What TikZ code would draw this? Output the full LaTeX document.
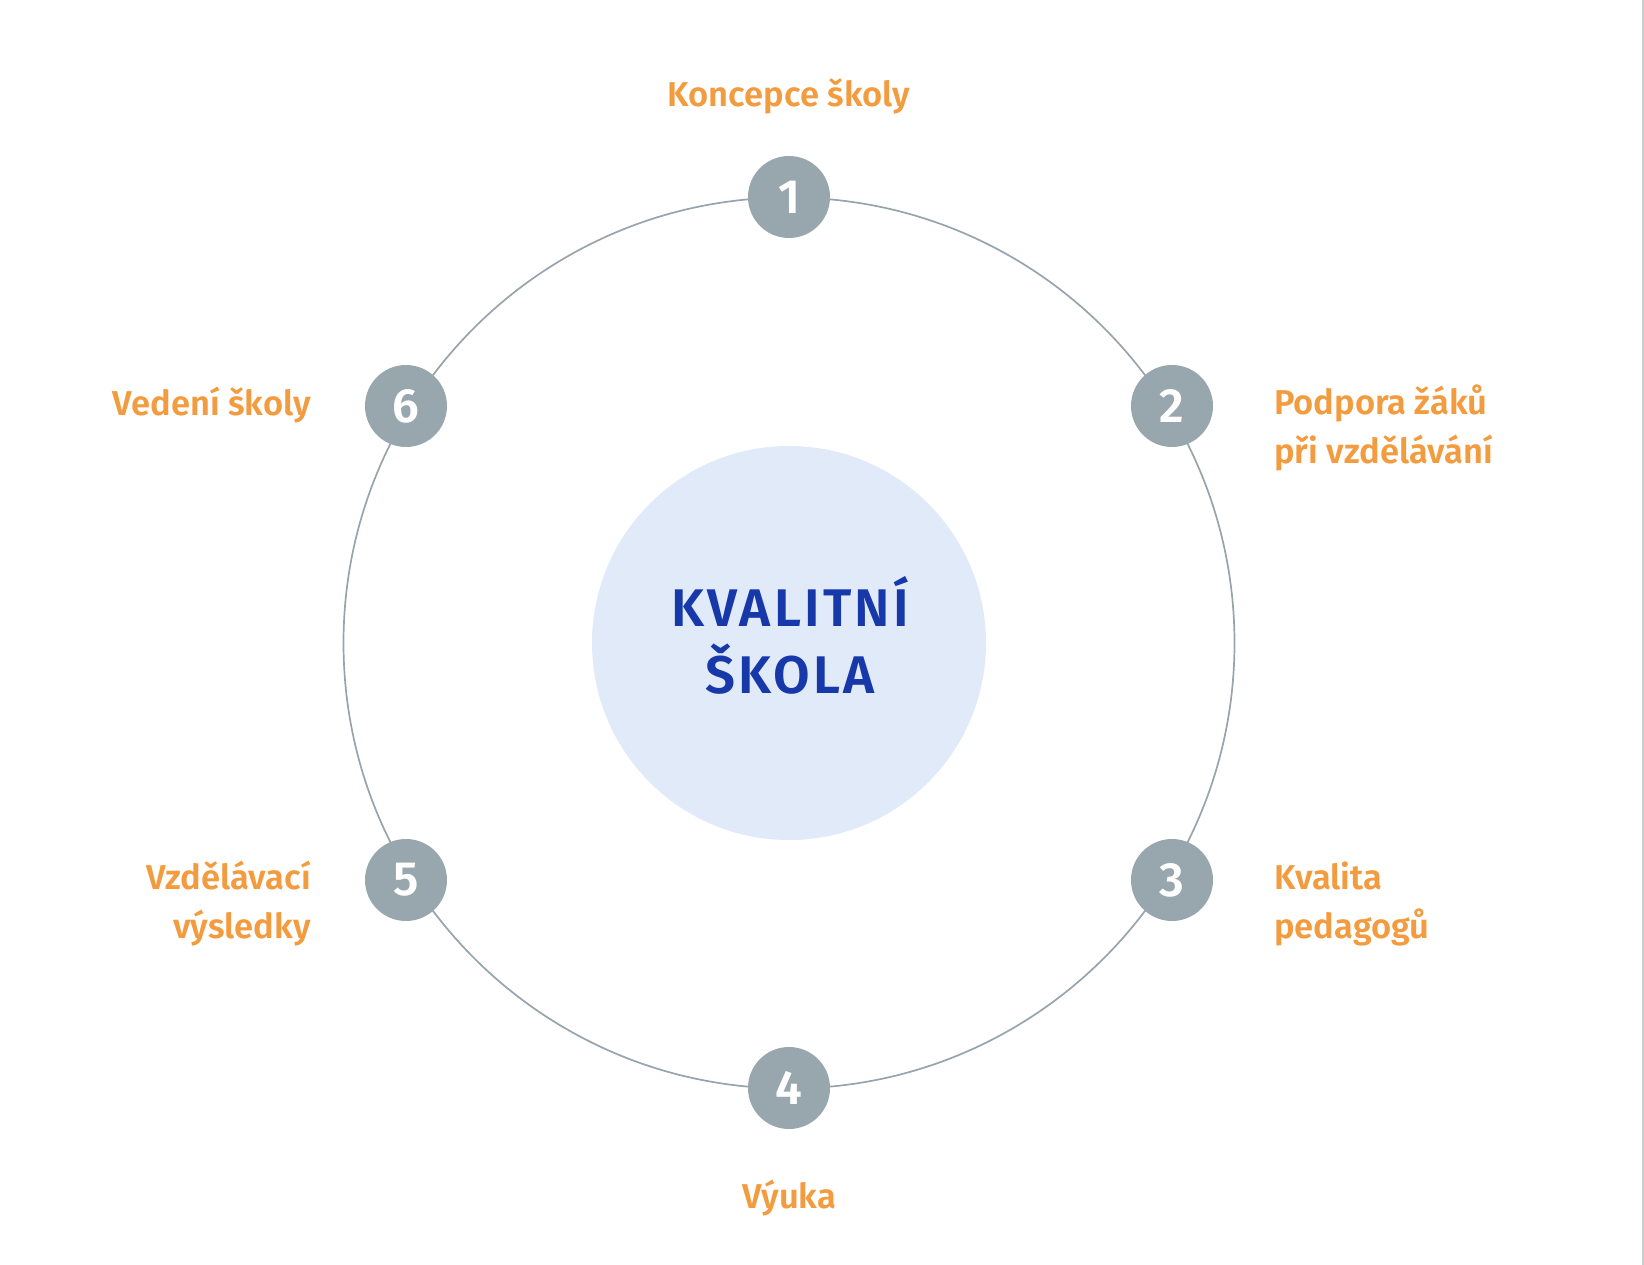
\documentclass[tikz,border=0pt]{standalone}
\usepackage{fontspec}
\setmainfont{Fira Sans}[BoldFont={Fira Sans SemiBold}]
\definecolor{labelorange}{HTML}{F39B3F}
\definecolor{numgray}{HTML}{98A6AE}
\definecolor{ringgray}{HTML}{97A4AC}
\definecolor{corefill}{HTML}{E1EAF8}
\definecolor{coreblue}{HTML}{1738A8}
\definecolor{edgegray}{HTML}{C9CED1}

\begin{document}
\begin{tikzpicture}[x=1pt,y=-1pt,
	num/.style={circle, fill=numgray, text=white, minimum size=82pt, inner sep=0pt, font=\fontsize{48}{48}\selectfont\bfseries},
	lbl/.style={text=labelorange, inner sep=0pt, font=\fontsize{34.5}{49}\selectfont\bfseries},
	core/.style={text=coreblue, anchor=base, inner sep=0pt, font=\fontsize{53}{67}\selectfont\bfseries\addfontfeatures{LetterSpace=6}}
	]
	\useasboundingbox (0,0) rectangle (1644,1265);
	\draw[edgegray, line width=2pt] (1643,0) -- (1643,1265);

	% middle
	\node[circle, fill=corefill, minimum size=394pt, inner sep=0pt] (middle) at (789,643) {};
	\draw[ringgray, line width=1.7pt] (middle.center) circle (445.5);
	\node[core] (kvalitni) at (790,626) {KVALITNÍ};
	\node[core] (skola) at (790,693) {ŠKOLA};

	% numbers
	\node[num] (n1) at (789,197) {1};
	\node[num] (n2) at (1172,406) {2};
	\node[num] (n3) at (1172,880) {3};
	\node[num] (n4) at (789,1088) {4};
	\node[num] (n5) at (406,880) {5};
	\node[num] (n6) at (406,406) {6};

	% labels
	\node[lbl, anchor=base] (l1) at (789,107) {Koncepce školy};
	\node[lbl, anchor=base west] (l2a) at (1274,414) {Podpora žáků};
	\node[lbl, anchor=base west] (l2b) at (1274,463) {při vzdělávání};
	\node[lbl, anchor=base west] (l3a) at (1274,889) {Kvalita};
	\node[lbl, anchor=base west] (l3b) at (1274,938) {pedagogů};
	\node[lbl, anchor=base] (l4) at (789,1208) {Výuka};
	\node[lbl, anchor=base east] (l5a) at (311,889) {Vzdělávací};
	\node[lbl, anchor=base east] (l5b) at (311,938) {výsledky};
	\node[lbl, anchor=base east] (l6) at (311,415) {Vedení školy};
\end{tikzpicture}
\end{document}
